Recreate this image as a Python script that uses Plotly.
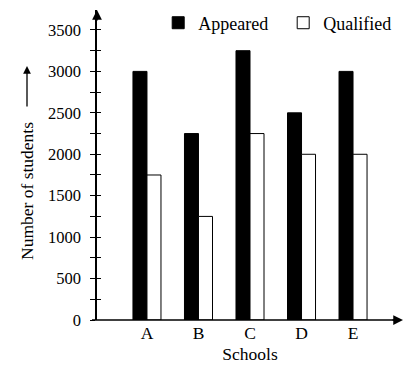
import plotly.graph_objects as go

schools = ["A", "B", "C", "D", "E"]
appeared = [3000, 2250, 3250, 2500, 3000]
qualified = [1750, 1250, 2250, 2000, 2000]
y_ticks = [0, 500, 1000, 1500, 2000, 2500, 3000, 3500]

FONT = "Liberation Serif"

fig = go.Figure()
fig.add_trace(go.Bar(x=schools, y=appeared, name="Appeared",
                     marker=dict(color="black", line=dict(color="black", width=1))))
fig.add_trace(go.Bar(x=schools, y=qualified, name="Qualified",
                     marker=dict(color="white", line=dict(color="black", width=1))))
# empty trace to host the inner tick axis
fig.add_trace(go.Scatter(x=[], y=[], yaxis="y2", showlegend=False, hoverinfo="skip"))

fig.update_layout(
    width=408, height=364,
    margin=dict(l=89, r=13, t=2, b=52, autoexpand=False),
    paper_bgcolor="white", plot_bgcolor="white",
    font=dict(family=FONT, color="black", size=17),
    barmode="group", bargap=0.456, bargroupgap=0,
    showlegend=True,
    legend=dict(orientation="h", x=0.2, xanchor="left", y=0.958, yanchor="middle",
                bgcolor="rgba(0,0,0,0)", font=dict(size=18, family=FONT),
                entrywidth=80, entrywidthmode="pixels", traceorder="normal"),
    xaxis=dict(range=[-0.97, 4.97], showline=False, showgrid=False, zeroline=False,
               automargin=False,
               ticks="", tickfont=dict(size=17.5, family=FONT),
               title=dict(text="Schools", font=dict(size=17.5, family=FONT), standoff=6)),
    yaxis=dict(range=[0, 3741], tickvals=y_ticks, ticktext=[str(v) for v in y_ticks],
               automargin=False,
               showline=True, linecolor="black", linewidth=1.5,
               ticks="outside", ticklen=5, tickwidth=1.2, tickcolor="black",
               minor=dict(dtick=250, tick0=0, ticks="outside", ticklen=5, tickwidth=1.2, tickcolor="black"),
               ticklabelstandoff=6,
               showgrid=False, zeroline=False, tickfont=dict(size=16.5, family=FONT)),
    yaxis2=dict(range=[0, 3741], overlaying="y", side="left", anchor="x",
                automargin=False,
                tickmode="linear", tick0=0, dtick=250, ticks="inside", ticklen=4,
                tickwidth=1.2, tickcolor="black", showticklabels=False,
                showgrid=False, zeroline=False, showline=False),
)

# x axis line (extends slightly left of y axis)
fig.add_shape(type="line", xref="paper", yref="paper", x0=-5/306, x1=0.985, y0=0, y1=0,
              line=dict(color="black", width=1.5))
# arrowheads
fig.add_annotation(xref="paper", yref="paper", x=1.0, y=0, ax=-12, ay=0, text="",
                   showarrow=True, arrowhead=2, arrowsize=1.3, arrowwidth=1.5, arrowcolor="black")
fig.add_annotation(xref="paper", yref="paper", x=0, y=1.0, ax=0, ay=12, text="",
                   showarrow=True, arrowhead=2, arrowsize=1.3, arrowwidth=1.5, arrowcolor="black")
# y axis title with arrow
fig.add_annotation(xref="paper", yref="paper", x=-70/306, y=(320-191)/310, text="Number of students",
                   textangle=-90, showarrow=False, font=dict(size=17.5, family=FONT),
                   xanchor="center", yanchor="middle")
fig.add_annotation(xref="paper", yref="paper", x=-70/306, y=(320-66)/310, ax=0, ay=42, text="",
                   showarrow=True, arrowhead=2, arrowsize=1.2, arrowwidth=1.3, arrowcolor="black")

fig.write_html("out.html")
